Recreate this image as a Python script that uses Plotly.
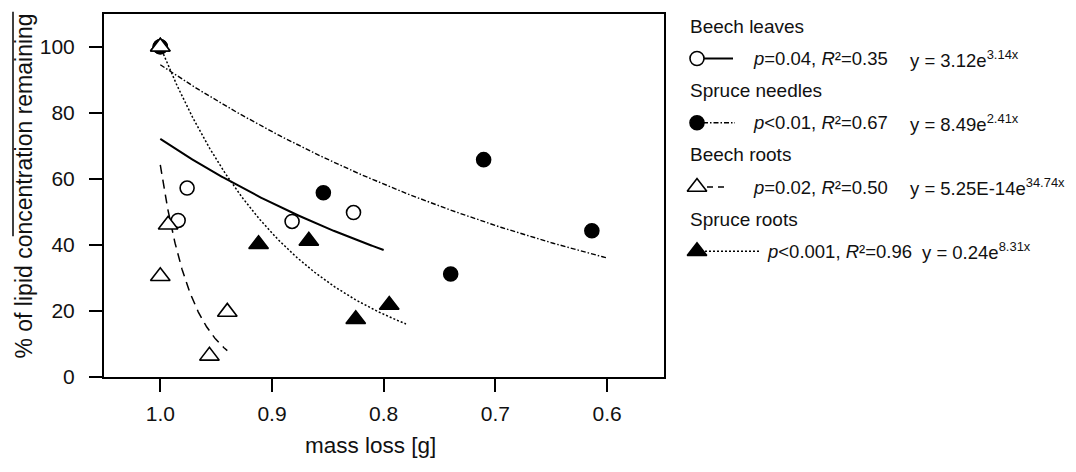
import numpy as np
import plotly.graph_objects as go

W, H = 1076, 472

# ---- data -------------------------------------------------------------
beech_leaves_x = [1.0, 0.976, 0.984, 0.882, 0.827]
beech_leaves_y = [100, 57.2, 47.4, 47.1, 49.8]

spruce_needles_x = [1.0, 0.854, 0.7105, 0.740, 0.6136]
spruce_needles_y = [100, 55.8, 65.8, 31.2, 44.3]

beech_roots_x = [1.0, 0.993, 1.0, 0.940, 0.956]
beech_roots_y = [100, 46.1, 30.5, 19.7, 6.4]

spruce_roots_x = [1.0, 0.912, 0.867, 0.825, 0.795]
spruce_roots_y = [100, 40.2, 41.2, 17.5, 21.8]

# exponential fits y = a * exp(b * x), drawn over [x_start, x_end]
fit_a = [3.12, 8.49, 5.25e-14, 0.0246]
fit_b = [3.14, 2.41, 34.74, 8.31]
fit_x_start = [1.0, 1.0, 1.0, 1.0]
fit_x_end = [0.80, 0.60, 0.94, 0.78]

group_names = ["Beech leaves", "Spruce needles", "Beech roots", "Spruce roots"]
stat_labels = ["<i>p</i>=0.04, <i>R</i>²=0.35",
               "<i>p</i><0.01, <i>R</i>²=0.67",
               "<i>p</i>=0.02, <i>R</i>²=0.50",
               "<i>p</i><0.001, <i>R</i>²=0.96"]
eq_labels = ["y = 3.12e<sup>3.14x</sup>",
             "y = 8.49e<sup>2.41x</sup>",
             "y = 5.25E-14e<sup>34.74x</sup>",
             "y = 0.24e<sup>8.31x</sup>"]

x_ticks = [1.0, 0.9, 0.8, 0.7, 0.6]
y_ticks = [0, 20, 40, 60, 80, 100]

# ---- styles -----------------------------------------------------------
FONT = "Liberation Sans, Arial, Helvetica, sans-serif"
symbols = ["circle", "circle", "triangle-up", "triangle-up"]
fills = ["white", "black", "white", "black"]
sizes = [14, 14, 17, 17]
dashes = ["solid", "5px,2px,1.5px,2px", "9px,6px", "2px,2px"]
key_dashes = ["solid", "5px,2px,1.5px,2px", "6px,5px", "2px,2px"]
widths = [2, 1.4, 1.5, 1.5]

series_x = [beech_leaves_x, spruce_needles_x, beech_roots_x, spruce_roots_x]
series_y = [beech_leaves_y, spruce_needles_y, beech_roots_y, spruce_roots_y]

fig = go.Figure()

# fitted curves
for i in range(4):
    xs = np.linspace(fit_x_start[i], fit_x_end[i], 200)
    ys = fit_a[i] * np.exp(fit_b[i] * xs)
    fig.add_trace(go.Scatter(
        x=xs, y=ys, mode="lines", hoverinfo="skip", showlegend=False,
        line=dict(color="black", width=widths[i], dash=dashes[i])))

# points (stacking order so the open triangle sits on top at (1, 100))
for i in [0, 3, 1, 2]:
    fig.add_trace(go.Scatter(
        x=series_x[i], y=series_y[i], mode="markers", name=group_names[i],
        showlegend=False,
        marker=dict(symbol=symbols[i], size=sizes[i], color=fills[i],
                    line=dict(color="black", width=1.6))))

# ---- key on the right (pixel coordinates of the key panel) -------------
KX0 = 680
row_h = 32.9
header_y = [27 + 2 * i * row_h for i in range(4)]
sample_y = [27 + (2 * i + 1) * row_h for i in range(4)]
line_x0 = [703, 703, 707, 705]
line_x1 = [733, 735, 724, 760]
stat_x = [751, 751, 751, 765]
eq_x = [908, 908, 908, 920]

for i in range(4):
    fig.add_trace(go.Scatter(
        x=[line_x0[i], line_x1[i]], y=[sample_y[i], sample_y[i]],
        xaxis="x2", yaxis="y2", mode="lines", hoverinfo="skip",
        showlegend=False,
        line=dict(color="black", width=widths[i], dash=key_dashes[i])))
    fig.add_trace(go.Scatter(
        x=[697], y=[sample_y[i]], xaxis="x2", yaxis="y2", mode="markers",
        hoverinfo="skip", showlegend=False,
        marker=dict(symbol=symbols[i], size=sizes[i], color=fills[i],
                    line=dict(color="black", width=1.6))))

annotations = []
for i in range(4):
    annotations.append(dict(
        x=688, y=header_y[i], xref="x2", yref="y2", text=group_names[i],
        showarrow=False, xanchor="left", yanchor="middle",
        font=dict(family=FONT, size=19, color="#111")))
    annotations.append(dict(
        x=stat_x[i], y=sample_y[i], xref="x2", yref="y2", text=stat_labels[i],
        showarrow=False, xanchor="left", yanchor="middle",
        font=dict(family=FONT, size=18.5, color="#111")))
    annotations.append(dict(
        x=eq_x[i], y=sample_y[i], xref="x2", yref="y2", text=eq_labels[i],
        showarrow=False, xanchor="left", yanchor="middle",
        font=dict(family=FONT, size=18.5, color="#111")))

# axis titles
annotations.append(dict(
    x=370 / W, y=1 - 456 / H, xref="paper", yref="paper", text="mass loss [g]",
    showarrow=False, xanchor="center", yanchor="middle",
    font=dict(family=FONT, size=22.5, color="#111")))
annotations.append(dict(
    x=24 / W, y=1 - 191 / H, xref="paper", yref="paper",
    text="% of lipid concentration remaining", textangle=-90,
    showarrow=False, xanchor="center", yanchor="middle",
    font=dict(family=FONT, size=23, color="#111")))

# overline stroke beside the y title
shapes = [dict(type="line", xref="paper", yref="paper",
               x0=13 / W, x1=13 / W, y0=1 - 12 / H, y1=1 - 242 / H,
               line=dict(color="black", width=1.5))]

axis_common = dict(showgrid=False, zeroline=False, showline=True, mirror=True,
                   linecolor="black", linewidth=2, ticks="outside",
                   ticklen=13, tickwidth=2, tickcolor="black",
                   tickfont=dict(family=FONT, size=21, color="#111"))

fig.update_layout(
    width=W, height=H,
    margin=dict(l=0, r=0, t=0, b=0),
    paper_bgcolor="white", plot_bgcolor="white",
    xaxis=dict(domain=[104 / W, 664 / W], range=[1.0504, 0.549],
               tickvals=x_ticks, ticktext=[f"{v:.1f}" for v in x_ticks],
               ticklabelstandoff=4, **axis_common),
    yaxis=dict(domain=[86 / H, 458 / H], range=[0, 110],
               tickvals=y_ticks, ticklabelstandoff=10, **axis_common),
    xaxis2=dict(domain=[KX0 / W, 1], range=[KX0, W], visible=False,
                anchor="y2", fixedrange=True),
    yaxis2=dict(domain=[0, 1], range=[H, 0], visible=False,
                anchor="x2", fixedrange=True),
    annotations=annotations,
    shapes=shapes,
    showlegend=False,
)

fig.write_html("out.html")
